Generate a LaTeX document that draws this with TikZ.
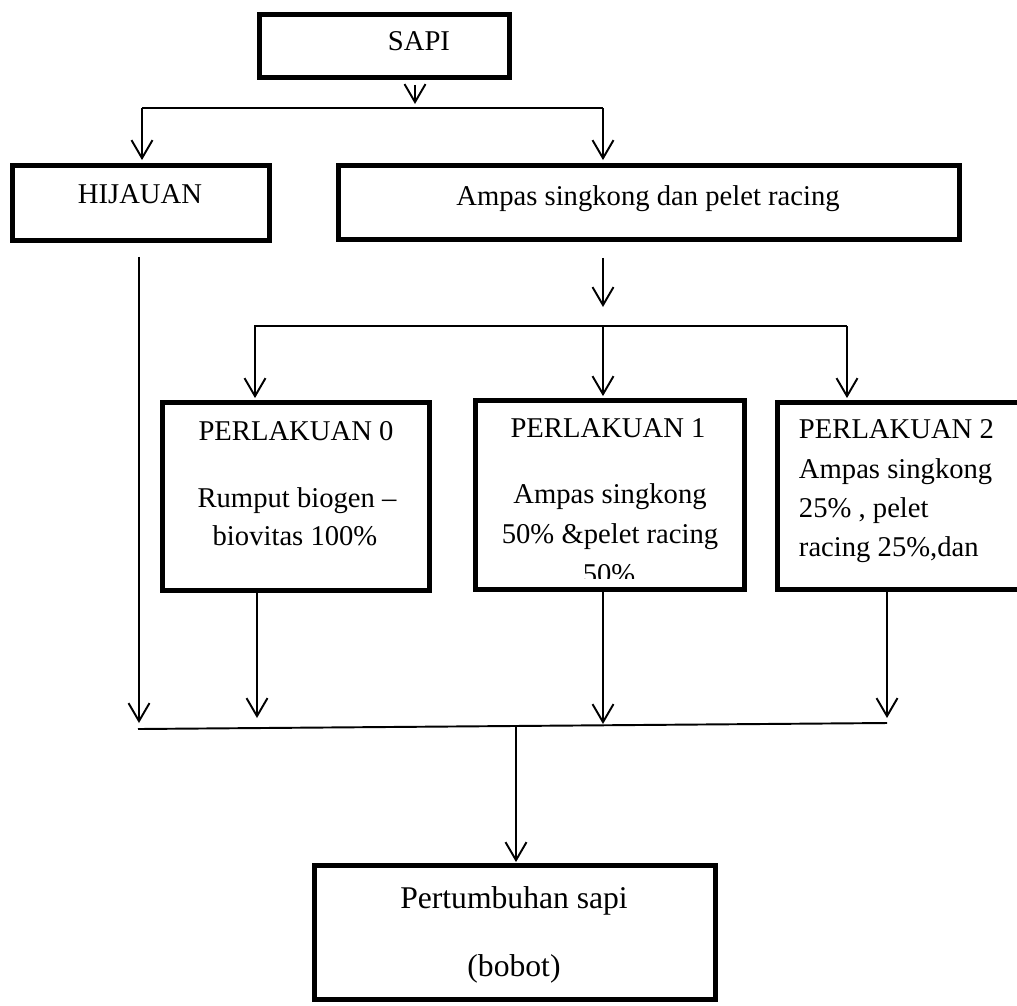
\documentclass[tikz,border=0pt]{standalone}
\usepackage{fontspec}
\setmainfont{Liberation Serif}
\usetikzlibrary{arrows.meta}

\begin{document}
\begin{tikzpicture}[x=0.02cm, y=-0.02cm, line width=1.1pt,
    kotak/.style={draw, line width=2.8pt, inner sep=0pt},
    tulis/.style={font=\fontsize{16.3}{20}\selectfont, anchor=base, inner sep=0pt},
    tulisbesar/.style={tulis, font=\fontsize{18}{22}\selectfont},
    panah/.style={-{Straight Barb[length=0.36cm, width=0.42cm, line width=1.1pt]}}]
  \clip (0, 0) rectangle (1017, 1005);

  % kotak-kotak
  \node[kotak, minimum width=5cm, minimum height=1.26cm] at (384.5, 46) (sapi) {};
  \node[kotak, minimum width=5.14cm, minimum height=1.5cm] at (141, 203) (hijau) {};
  \node[kotak, minimum width=12.42cm, minimum height=1.48cm] at (649, 202.5) (ampas) {};
  \node[kotak, minimum width=5.34cm, minimum height=3.76cm] at (296, 496.5) (p0) {};
  \node[kotak, minimum width=5.38cm, minimum height=3.78cm] at (610, 495) (p1) {};
  \node[kotak, minimum width=5.2cm, minimum height=3.74cm] at (907.5, 496) (p2) {};
  \node[kotak, minimum width=8.02cm, minimum height=2.68cm] at (515, 932.5) (hasil) {};

  % tulisan
  \node[tulis] at (419, 50) (sapiT) {SAPI};
  \node[tulis] at (140, 203) (hijauT) {HIJAUAN};
  \node[tulis] at (648, 205) (ampasT) {Ampas singkong dan pelet racing};

  \node[tulis] at (296, 440) (p0a) {PERLAKUAN 0};
  \node[tulis] at (297, 507) (p0b) {Rumput biogen --};
  \node[tulis] at (295, 545) (p0c) {biovitas 100\%};

  \node[tulis] at (608, 437) (p1a) {PERLAKUAN 1};
  \node[tulis] at (610, 503) (p1b) {Ampas singkong};
  \node[tulis] at (610, 543) (p1c) {50\% \&pelet racing};
  \begin{scope}
    \clip (474, 400) rectangle (747, 578);
    \node[tulis] at (609, 583) (p1d) {50\%};
  \end{scope}

  \node[tulis, anchor=base west] at (798, 438) (p2a) {PERLAKUAN 2};
  \node[tulis, anchor=base west] at (798, 478) (p2b) {Ampas singkong};
  \node[tulis, anchor=base west] at (798, 517) (p2c) {25\%~, pelet};
  \node[tulis, anchor=base west] at (798, 556) (p2d) {racing 25\%,dan};

  \node[tulisbesar] at (514, 908) (hasilA) {Pertumbuhan sapi};
  \node[tulisbesar] at (514, 976) (hasilB) {(bobot)};

  % cabang atas
  \coordinate (ujung1) at (415, 104);
  \coordinate (cabang1a) at (142, 108);
  \coordinate (cabang1b) at (603, 108);
  \draw[panah] ([yshift=-0.1cm]sapi.south -| ujung1) -- (ujung1);
  \draw (cabang1a) -- (cabang1b);
  \draw[panah] (cabang1a) -- ([yshift=0.06cm]hijau.north -| cabang1a);
  \draw[panah] (cabang1b) -- ([yshift=0.06cm]ampas.north -| cabang1b);

  % cabang tengah
  \coordinate (ujung2) at (603, 307);
  \coordinate (cabang2a) at (254, 326);
  \coordinate (cabang2b) at (603, 326);
  \coordinate (cabang2c) at (847, 326);
  \draw[panah] ([yshift=-0.32cm]ampas.south -| ujung2) -- (ujung2);
  \draw (cabang2a) -- (cabang2c);
  \draw[panah] (cabang2a) ++(1, 0) -- ([yshift=0.04cm]p0.north -| 255, 0);
  \draw[panah] (cabang2b) -- ([yshift=0.04cm]p1.north -| cabang2b);
  \draw[panah] (cabang2c) -- ([yshift=0.04cm]p2.north -| cabang2c);

  % gabungan bawah
  \coordinate (gabung0) at (139, 723);
  \coordinate (gabung1) at (257, 718);
  \coordinate (gabung2) at (603, 724);
  \coordinate (gabung3) at (887, 718);
  \coordinate (garisA) at (138, 729);
  \coordinate (garisB) at (887, 723);
  \coordinate (turun) at (516, 727);
  \draw[panah] ([yshift=-0.28cm]hijau.south -| gabung0) -- (gabung0);
  \draw[panah] (p0.south -| gabung1) -- (gabung1);
  \draw[panah] (p1.south -| gabung2) -- (gabung2);
  \draw[panah] (p2.south -| gabung3) -- (gabung3);
  \draw (garisA) -- (garisB);
  \draw[panah] (turun) -- ([yshift=0.02cm]hasil.north -| turun);
\end{tikzpicture}
\end{document}
